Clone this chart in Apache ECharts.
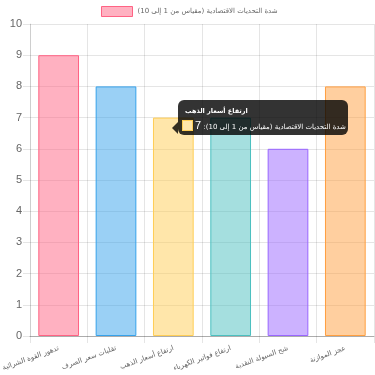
<!DOCTYPE html>
<html><head><meta charset="utf-8">
<script src="https://cdn.jsdelivr.net/npm/echarts@6/dist/echarts.min.js"></script>
<style>html,body{margin:0;padding:0;background:#fff}#c{width:375px;height:375px}</style>
</head><body><div id="c"></div>
<script>
const categories = ["تدهور القوة الشرائية","تقلبات سعر الصرف","ارتفاع أسعار الذهب","ارتفاع فواتير الكهرباء","شح السيولة النقدية","عجز الموازنة"];
const values = [9, 8, 7, 7, 6, 8];
const seriesName = "شدة التحديات الاقتصادية (مقياس من 1 إلى 10)";
const fills = ["rgba(255,99,132,0.5)","rgba(54,162,235,0.5)","rgba(255,206,86,0.5)","rgba(75,192,192,0.5)","rgba(153,102,255,0.5)","rgba(255,159,64,0.5)"];
const borders = ["rgb(255,99,132)","rgb(54,162,235)","rgb(255,206,86)","rgb(75,192,192)","rgb(153,102,255)","rgb(255,159,64)"];
const tipIndex = 2;

const font = "'DejaVu Sans', sans-serif";
const latin = "'Liberation Sans', Arial, sans-serif";
const chart = echarts.init(document.getElementById('c'), null, {renderer:'canvas'});
chart.setOption({
  animation: false,
  textStyle: {fontFamily: font},
  legend: {
    top: 6, left: 101, padding: 0,
    itemWidth: 31, itemHeight: 10, itemGap: 5,
    icon: 'rect',
    textStyle: {fontSize: 7, color: '#666', fontFamily: font},
    data: [{name: seriesName, itemStyle: {color: fills[0], borderColor: borders[0], borderWidth: 1}}]
  },
  grid: {left: 30, right: 1, top: 24, bottom: 39, outerBoundsMode: 'none', containLabel: false},
  xAxis: {
    type: 'category', data: categories,
    axisLine: {show: true, lineStyle: {color: 'rgba(0,0,0,0.25)'}},
    axisTick: {show: true, length: 7, lineStyle: {color: 'rgba(0,0,0,0.1)'}},
    splitLine: {show: true, interval: 0, lineStyle: {color: 'rgba(0,0,0,0.1)'}},
    axisLabel: {interval: 0, rotate: 20, fontSize: 7, color: '#666', margin: 12, fontFamily: font}
  },
  yAxis: {
    type: 'value', min: 0, max: 10, interval: 1,
    axisLine: {show: true, lineStyle: {color: 'rgba(0,0,0,0.1)'}},
    axisTick: {show: true, length: 7, lineStyle: {color: 'rgba(0,0,0,0.1)'}},
    splitLine: {lineStyle: {color: 'rgba(0,0,0,0.1)'}},
    axisLabel: {fontSize: 11, color: '#666', margin: 8, fontFamily: latin}
  },
  tooltip: {
    trigger: 'item', triggerOn: 'none', alwaysShowContent: true,
    transitionDuration: 0, confine: false,
    backgroundColor: 'rgba(0,0,0,0.8)', borderWidth: 0, padding: [6, 5, 4, 4],
    extraCssText: 'border-radius:6px;box-shadow:none;white-space:nowrap;width:161px;',
    textStyle: {color: '#fff', fontSize: 7, fontFamily: font},
    position: function(){ return [178, 100]; },
    formatter: function(p){
      const i = p.dataIndex;
      return '<div style="position:relative;direction:ltr;text-align:left;white-space:nowrap;">' +
        '<span style="position:absolute;left:-10px;top:16px;width:0;height:0;border-top:6px solid transparent;border-bottom:6px solid transparent;border-right:6px solid rgba(0,0,0,0.8);"></span>' +
        '<div dir="rtl" style="display:inline-block;font-weight:bold;font-size:6.5px;line-height:10px;margin-left:3px;margin-bottom:3px;">' + categories[i] + '</div>' +
        '<div style="line-height:12px;height:12px;">' +
        '<span style="display:inline-block;box-sizing:border-box;width:11px;height:11px;vertical-align:-2px;margin-right:2px;background:rgb(255,230,170);border:1px solid ' + borders[i] + ';"></span>' +
        '<span dir="rtl" style="display:inline-block;">' + seriesName + ': <span style="font-size:11px;font-family:' + latin.replace(/'/g, '') + ';">' + p.value + '</span></span>' +
        '</div></div>';
    }
  },
  series: [{
    name: seriesName, type: 'bar', barWidth: '71%',
    emphasis: {disabled: true},
    data: values.map((v, i) => ({value: v, itemStyle: {color: fills[i], borderColor: borders[i], borderWidth: 1}}))
  }]
});
chart.dispatchAction({type: 'showTip', seriesIndex: 0, dataIndex: tipIndex});
</script></body></html>
